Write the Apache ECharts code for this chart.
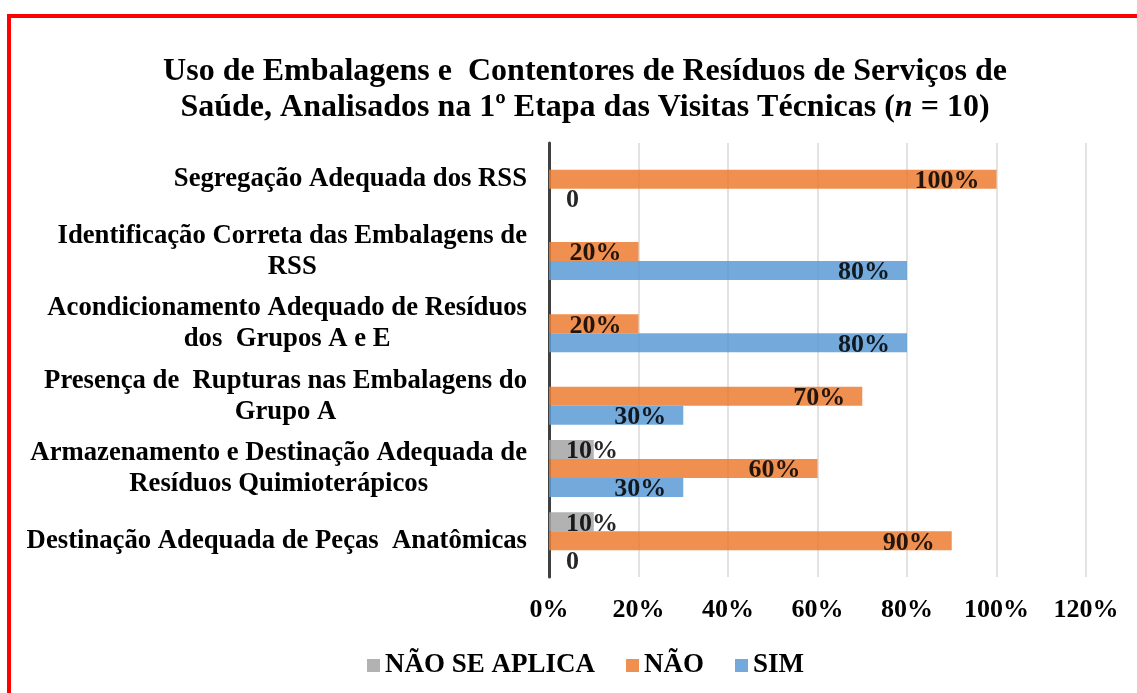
<!DOCTYPE html>
<html>
<head>
<meta charset="utf-8">
<script src="https://cdn.jsdelivr.net/npm/echarts@6/dist/echarts.min.js"></script>
<style>
  html, body { margin: 0; padding: 0; background: #fff; }
  #chart { width: 1137px; height: 693px; }
  #frame {
    position: absolute; left: 7px; top: 14px; width: 1200px; height: 800px;
    border-top: 4px solid #ff0000; border-left: 4px solid #ff0000;
    pointer-events: none;
  }
</style>
</head>
<body>
<div id="chart"></div>
<div id="frame"></div>
<script>
(function () {
  var categories = [
    'Segregação Adequada dos RSS',
    'Identificação Correta das Embalagens de\nRSS',
    'Acondicionamento Adequado de Resíduos\ndos  Grupos A e E',
    'Presença de  Rupturas nas Embalagens do\nGrupo A',
    'Armazenamento e Destinação Adequada de\nResíduos Quimioterápicos',
    'Destinação Adequada de Peças  Anatômicas'
  ];
  var naoSeAplica = [null, null, null, null, 10, 10];
  var nao = [100, 20, 20, 70, 60, 90];
  var sim = [0, 80, 80, 30, 30, 0];
  var xTicks = [0, 20, 40, 60, 80, 100, 120];

  var font = 'Liberation Serif';
  var ink = '#000000';

  function labelled(values) {
    return values.map(function (v) {
      if (v === null) return null;
      return {
        value: v,
        label: { position: v < 15 ? 'insideLeft' : 'insideRight' }
      };
    });
  }

  var labelStyle = {
    show: true,
    distance: 17,
    color: ink,
    fontFamily: font,
    fontWeight: 'bold',
    fontSize: 26,
    offset: [0, 2],
    formatter: function (p) { return p.value === 0 ? '0' : p.value + '%'; }
  };

  var chart = echarts.init(document.getElementById('chart'), null, { renderer: 'canvas' });
  chart.setOption({
    animation: false,
    title: {
      left: 580,
      top: 49,
      textAlign: 'center',
      text: '{b|Uso de Embalagens e  Contentores de Resíduos de Serviços de}\n' +
            '{b|Saúde, Analisados na 1º Etapa das Visitas Técnicas (}{i|n}{b| = 10)}',
      textStyle: {
        rich: {
          b: { fontFamily: font, fontWeight: 'bold', fontSize: 32, color: ink, lineHeight: 36 },
          i: { fontFamily: font, fontWeight: 'bold', fontStyle: 'italic', fontSize: 32, color: ink, lineHeight: 36 }
        }
      }
    },
    legend: {
      left: 362,
      top: 647,
      icon: 'rect',
      itemWidth: 13,
      itemHeight: 13,
      itemGap: 31,
      textStyle: { fontFamily: font, fontWeight: 'bold', fontSize: 27, color: ink },
      data: ['NÃO SE APLICA', 'NÃO', 'SIM']
    },
    grid: { left: 549, right: 51, top: 143, bottom: 116, containLabel: false },
    xAxis: {
      type: 'value',
      min: xTicks[0],
      max: xTicks[xTicks.length - 1],
      interval: 20,
      axisLine: { show: false },
      axisTick: { show: false },
      axisLabel: {
        margin: 20,
        color: ink,
        fontFamily: font,
        fontWeight: 'bold',
        fontSize: 26,
        formatter: '{value}%'
      },
      splitLine: { lineStyle: { color: '#D9D9D9', width: 1.5 } }
    },
    yAxis: {
      type: 'category',
      inverse: true,
      data: categories,
      axisTick: { show: false },
      axisLine: { show: true, lineStyle: { color: '#404040', width: 3 } },
      axisLabel: {
        margin: 22,
        formatter: function (v) {
          return v.split('\n').map(function (s) { return '{c|' + s + '}'; }).join('\n');
        },
        rich: {
          c: { align: 'center', fontFamily: font, fontWeight: 'bold', fontSize: 26.7, color: ink, lineHeight: 31 }
        }
      }
    },
    series: [
      {
        name: 'NÃO SE APLICA',
        type: 'bar',
        barWidth: 19,
        barGap: '0%',
        data: labelled(naoSeAplica),
        itemStyle: { color: '#A5A5A5', opacity: 0.85 },
        label: labelStyle
      },
      {
        name: 'NÃO',
        type: 'bar',
        barWidth: 19,
        barGap: '0%',
        data: labelled(nao),
        itemStyle: { color: '#ED7D31', opacity: 0.85 },
        label: labelStyle
      },
      {
        name: 'SIM',
        type: 'bar',
        barWidth: 19,
        barGap: '0%',
        data: labelled(sim),
        itemStyle: { color: '#5B9BD5', opacity: 0.85 },
        label: labelStyle
      }
    ]
  });
  window.addEventListener('resize', function () { chart.resize(); });
})();
</script>
</body>
</html>
